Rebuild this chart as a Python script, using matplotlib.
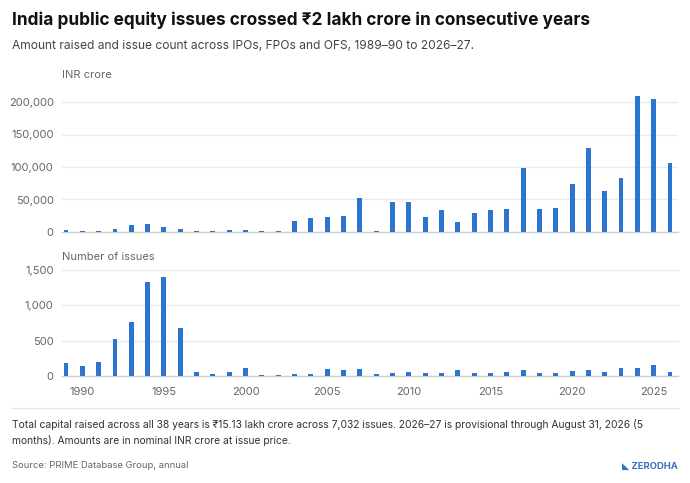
import matplotlib
matplotlib.use("Agg")
import matplotlib.pyplot as plt
from matplotlib.ticker import FuncFormatter, FixedLocator

years = list(range(1989, 2027))
amount_cr = [2600, 1500, 1500, 5100, 10200, 12300, 8200, 4100, 1500, 1000,
             3000, 2500, 1200, 1200, 17400, 21000, 23000, 24100, 51800, 2000,
             46000, 45600, 23600, 33800, 14900, 29200, 33800, 35900, 98500, 35900,
             36900, 73800, 129700, 62600, 83600, 208700, 204100, 106100]
issues = [180, 133, 190, 522, 764, 1339, 1405, 684, 52, 24,
          52, 109, 5, 5, 24, 24, 100, 85, 90, 24,
          43, 52, 33, 43, 81, 38, 38, 52, 81, 38,
          38, 66, 76, 52, 109, 104, 152, 57]
xticks = [1990, 1995, 2000, 2005, 2010, 2015, 2020, 2025]
amount_ticks = [0, 50000, 100000, 150000, 200000]
issue_ticks = [0, 500, 1000, 1500]

FONT = ['Inter', 'DejaVu Sans']
plt.rcParams['font.family'] = FONT

W, H = 690, 483
fig = plt.figure(figsize=(W / 100, H / 100), dpi=100)
fig.patch.set_facecolor('white')

BAR = '#2B74D2'
GRID = '#ebebeb'
TICK = '#666666'

def px_axes(left, top, right, bottom):
    return fig.add_axes([left / W, 1 - bottom / H, (right - left) / W, (bottom - top) / H])

x0 = 1989 - 4 / 16.32
x1 = 2026 + 8 / 16.32

def style(ax, ticks, ymax):
    ax.set_xlim(x0, x1)
    ax.set_ylim(0, ymax)
    for s in ['top', 'right', 'left']:
        ax.spines[s].set_visible(False)
    ax.spines['bottom'].set_color('#cfcfcf')
    ax.spines['bottom'].set_linewidth(1.0)
    ax.yaxis.set_major_locator(FixedLocator(ticks))
    ax.yaxis.set_major_formatter(FuncFormatter(lambda v, p: f"{int(v):,}"))
    ax.tick_params(axis='both', length=0, labelsize=8, labelcolor=TICK, pad=6)
    ax.grid(axis='y', color=GRID, linewidth=1.0)
    ax.set_axisbelow(True)

ax1 = px_axes(62, 92, 678, 232)
ax1.bar(years, amount_cr, width=0.3, color=BAR, zorder=3)
style(ax1, amount_ticks, 200000 * 140 / 130)
ax1.set_xticks([])

ax2 = px_axes(62, 270.3, 678, 375.7)
ax2.bar(years, issues, width=0.3, color=BAR, zorder=3)
style(ax2, issue_ticks, 1500)
ax2.set_xticks(xticks)
ax2.set_xticklabels([str(t) for t in xticks])
ax2.tick_params(axis='x', pad=8)
for gl in ax2.get_ygridlines():
    gl.set_clip_on(False)

def ftext(x, y, s, **kw):
    fig.text(x / W, 1 - y / H, s, **kw)

ftext(12, 20, "India public equity issues crossed ₹2 lakh crore in consecutive years",
      fontsize=12.4, fontweight='bold', color='#111111', va='center', ha='left')
ftext(12, 46, "Amount raised and issue count across IPOs, FPOs and OFS, 1989–90 to 2026–27.",
      fontsize=8.65, color='#444444', va='center', ha='left')
ftext(62, 75, "INR crore", fontsize=8, color=TICK, va='center', ha='left')
ftext(62, 257, "Number of issues", fontsize=8, color=TICK, va='center', ha='left')

fig.add_artist(plt.Line2D([12 / W, 678 / W], [1 - 408 / H, 1 - 408 / H],
                          color='#e6e6e6', linewidth=1.0))

ftext(12, 425, "Total capital raised across all 38 years is ₹15.13 lakh crore across 7,032 issues. 2026–27 is provisional through August 31, 2026 (5",
      fontsize=7.45, color='#333333', va='center', ha='left')
ftext(12, 440, "months). Amounts are in nominal INR crore at issue price.",
      fontsize=7.45, color='#333333', va='center', ha='left')
ftext(12, 466, "Source: PRIME Database Group, annual",
      fontsize=6.8, color='#666666', va='center', ha='left')
ftext(678, 466, "◣ ZERODHA", fontsize=6.8, color='#3a6fc4', va='center', ha='right',
      fontweight='bold')

fig.savefig('out.png', dpi=100, facecolor='white')
